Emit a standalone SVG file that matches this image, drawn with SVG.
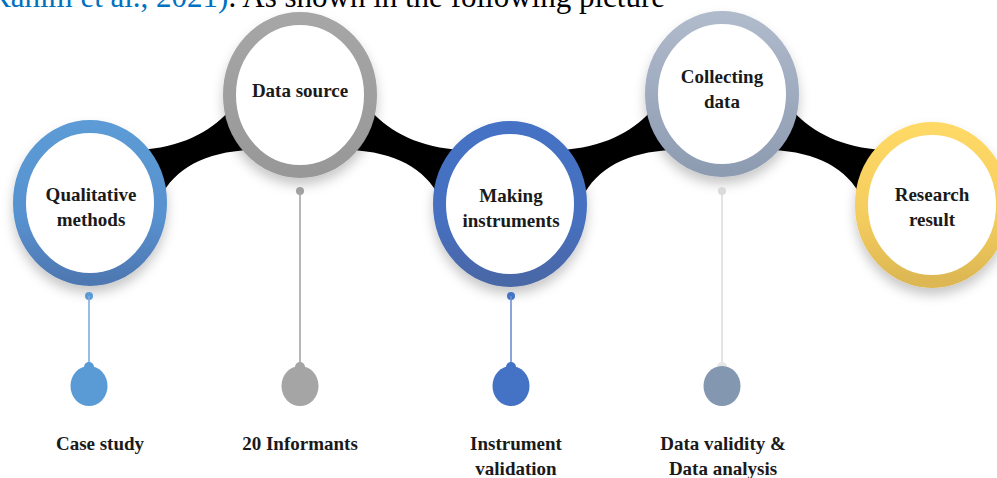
<svg xmlns="http://www.w3.org/2000/svg" width="997" height="478" viewBox="0 0 997 478">
<defs>
<style>
.lbl{font-family:"Liberation Serif","Times New Roman",serif;font-weight:bold;font-size:19px;fill:#1a1a1a;text-anchor:middle}
.ring{fill:#fff;stroke-width:13}
.band{fill:#000}
.stem{stroke-width:1.6;fill:none}
</style>
<linearGradient id="g1" x1="0" y1="0" x2="0" y2="1"><stop offset="0" stop-color="#5B9BD5"/><stop offset="0.6" stop-color="#5891CF"/><stop offset="1" stop-color="#4E78B2"/></linearGradient>
<linearGradient id="g2" x1="0" y1="0" x2="0" y2="1"><stop offset="0" stop-color="#A6A6A6"/><stop offset="1" stop-color="#989898"/></linearGradient>
<linearGradient id="g3" x1="0" y1="0" x2="0" y2="1"><stop offset="0" stop-color="#4472C4"/><stop offset="0.6" stop-color="#4670C0"/><stop offset="1" stop-color="#4A67A6"/></linearGradient>
<linearGradient id="g4" x1="0" y1="0" x2="0" y2="1"><stop offset="0" stop-color="#AFBACB"/><stop offset="1" stop-color="#8E9CB2"/></linearGradient>
<linearGradient id="g5" x1="0" y1="0" x2="0" y2="1"><stop offset="0" stop-color="#FFD966"/><stop offset="0.6" stop-color="#F3CC5E"/><stop offset="1" stop-color="#DCB752"/></linearGradient>
<filter id="sh" x="-30%" y="-30%" width="160%" height="170%">
<feGaussianBlur in="SourceAlpha" stdDeviation="6"/>
<feOffset dy="7" result="b"/>
<feFlood flood-color="#000" flood-opacity="0.22"/>
<feComposite in2="b" operator="in"/>
<feMerge><feMergeNode/><feMergeNode in="SourceGraphic"/></feMerge>
</filter>
<path id="down" class="band" d="M360,100 L372,112 C390,132 420,148 462,150 L480,175 L440,198 C425,168 395,152 350,150 Z"/>
</defs>
<rect width="997" height="478" fill="#fff"/>
<text x="665" y="7" font-family="'Liberation Serif','Times New Roman',serif" font-size="31" text-anchor="end" fill="#000"><tspan fill="#0070C0">Rahim et al., 2021)</tspan>. As shown in the following picture</text>
<g id="connectors">
<use href="#down" transform="translate(600,0) scale(-1,1)"/>
<use href="#down"/>
<use href="#down" transform="translate(1022,0) scale(-1,1)"/>
<use href="#down" transform="translate(422,0)"/>
</g>
<g id="node-1">
<ellipse class="ring" cx="90" cy="203" rx="70.5" ry="76.5" stroke="url(#g1)" filter="url(#sh)"/>
<text class="lbl" x="91" y="201">Qualitative</text>
<text class="lbl" x="91" y="226">methods</text>
<circle cx="89" cy="296" r="4" fill="#5B9BD5"/>
<line class="stem" x1="89" y1="296" x2="89" y2="368" stroke="#7EADE0"/>
<circle cx="89" cy="367" r="5" fill="#5B9BD5"/>
<ellipse cx="89" cy="386" rx="18.5" ry="20" fill="#5B9BD5"/>
<text class="lbl" x="100" y="450">Case study</text>
</g>
<g id="node-2">
<ellipse class="ring" cx="300" cy="95" rx="70.5" ry="76.5" stroke="url(#g2)" filter="url(#sh)"/>
<text class="lbl" x="300" y="97">Data source</text>
<circle cx="300" cy="191" r="4" fill="#A0A0A0"/>
<line class="stem" x1="300" y1="191" x2="300" y2="368" stroke="#A5A5A5"/>
<circle cx="300" cy="367" r="5" fill="#A5A5A5"/>
<ellipse cx="300" cy="386" rx="18.5" ry="20" fill="#A5A5A5"/>
<text class="lbl" x="300" y="450">20 Informants</text>
</g>
<g id="node-3">
<ellipse class="ring" cx="510" cy="204" rx="70.5" ry="76.5" stroke="url(#g3)" filter="url(#sh)"/>
<text class="lbl" x="511" y="202">Making</text>
<text class="lbl" x="511" y="227">instruments</text>
<circle cx="511" cy="296" r="4" fill="#4472C4"/>
<line class="stem" x1="511" y1="296" x2="511" y2="368" stroke="#6C8FD4"/>
<circle cx="511" cy="367" r="5" fill="#4472C4"/>
<ellipse cx="511" cy="386" rx="18.5" ry="20" fill="#4472C4"/>
<text class="lbl" x="516" y="450">Instrument</text>
<text class="lbl" x="516" y="475">validation</text>
</g>
<g id="node-4">
<ellipse class="ring" cx="722" cy="94" rx="70.5" ry="76.5" stroke="url(#g4)" filter="url(#sh)"/>
<text class="lbl" x="722" y="83">Collecting</text>
<text class="lbl" x="722" y="108">data</text>
<circle cx="722" cy="191" r="4" fill="#DADADA"/>
<line class="stem" x1="722" y1="191" x2="722" y2="368" stroke="#DEDEDE"/>
<circle cx="722" cy="367" r="5" fill="#E6E6E6"/>
<ellipse cx="722" cy="386" rx="18.5" ry="20" fill="#8497B0"/>
<text class="lbl" x="723" y="450">Data validity &amp;</text>
<text class="lbl" x="723" y="475">Data analysis</text>
</g>
<g id="node-5">
<ellipse class="ring" cx="932" cy="205" rx="70.5" ry="76.5" stroke="url(#g5)" filter="url(#sh)"/>
<text class="lbl" x="932" y="201">Research</text>
<text class="lbl" x="932" y="226">result</text>
</g>
</svg>
